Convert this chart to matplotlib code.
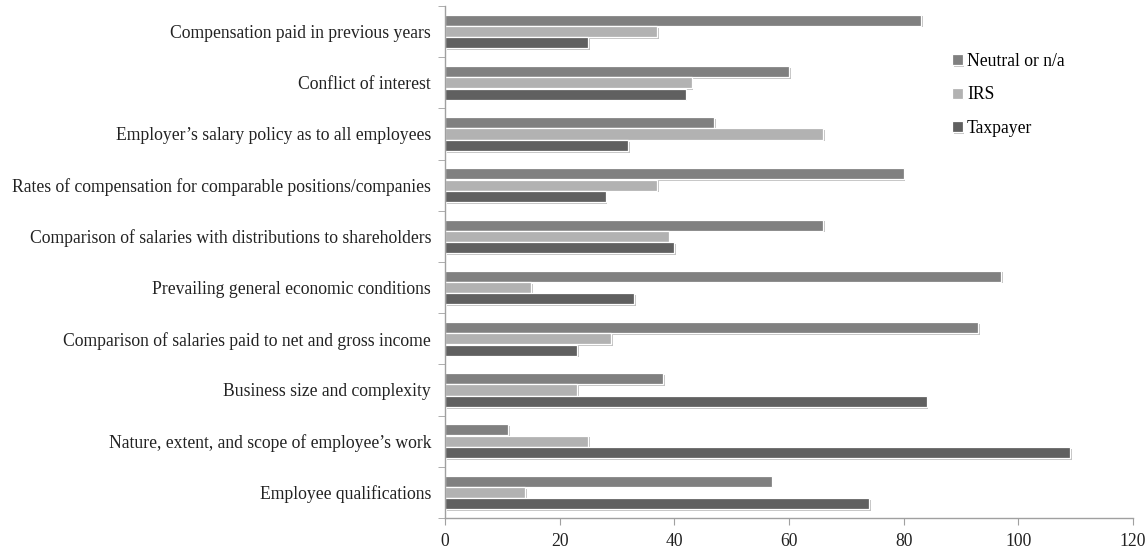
import numpy as np
import matplotlib
matplotlib.use("Agg")
from matplotlib import pyplot as plt
from matplotlib import patheffects as pe
from matplotlib.ticker import FixedLocator, NullFormatter

categories = [
    "Compensation paid in previous years",
    "Conflict of interest",
    "Employer\u2019s salary policy as to all employees",
    "Rates of compensation for comparable positions/companies",
    "Comparison of salaries with distributions to shareholders",
    "Prevailing general economic conditions",
    "Comparison of salaries paid to net and gross income",
    "Business size and complexity",
    "Nature, extent, and scope of employee\u2019s work",
    "Employee qualifications",
]
neutral = [83, 60, 47, 80, 66, 97, 93, 38, 11, 57]
irs = [37, 43, 66, 37, 39, 15, 29, 23, 25, 14]
taxpayer = [25, 42, 32, 28, 40, 33, 23, 84, 109, 74]

series = [
    ("Neutral or n/a", neutral, "#808080"),
    ("IRS", irs, "#b2b2b2"),
    ("Taxpayer", taxpayer, "#606060"),
]

plt.rcParams['font.family'] = ['Liberation Serif', 'DejaVu Serif']

fig = plt.figure(figsize=(11.47, 5.52), dpi=100)
ax = fig.add_axes([445 / 1147, 1 - 518 / 552, (1133 - 445) / 1147, (518 - 6) / 552])

y = np.arange(len(categories))
step = 0.222
height = 0.215
shadow = [pe.SimplePatchShadow(offset=(1.2, -1.2), shadow_rgbFace="#999999", alpha=0.6), pe.Normal()]
for i, (name, vals, color) in enumerate(series):
    bars = ax.barh(y + (i - 1) * step, vals, height=height, color=color,
                   edgecolor="white", linewidth=0.9, label=name)
    for b in bars:
        b.set_path_effects(shadow)

ax.set_ylim(len(categories) - 0.5, -0.5)
ax.set_xlim(0, 120)
ax.set_xticks(range(0, 121, 20))
ax.set_yticks(y)
ax.set_yticklabels(categories)
ax.yaxis.set_minor_locator(FixedLocator(np.arange(-0.5, len(categories), 1)))
ax.yaxis.set_minor_formatter(NullFormatter())
ax.tick_params(axis="y", which="major", length=0, pad=10, labelsize=12.7, labelcolor="#222222")
ax.tick_params(axis="y", which="minor", length=5, color="#a0a0a0")
ax.tick_params(axis="x", length=5, color="#a0a0a0", labelsize=12.7, labelcolor="#222222", pad=6)

for side in ["top", "right"]:
    ax.spines[side].set_visible(False)
for side in ["left", "bottom"]:
    ax.spines[side].set_color("#a0a0a0")
    ax.spines[side].set_linewidth(1.0)

ax.legend(loc="upper left", bbox_to_anchor=(0.714, 0.94), frameon=False,
          fontsize=12.7, handlelength=0.6, handleheight=0.6, handletextpad=0.25,
          labelspacing=0.95)

fig.savefig("out.png", dpi=100)
